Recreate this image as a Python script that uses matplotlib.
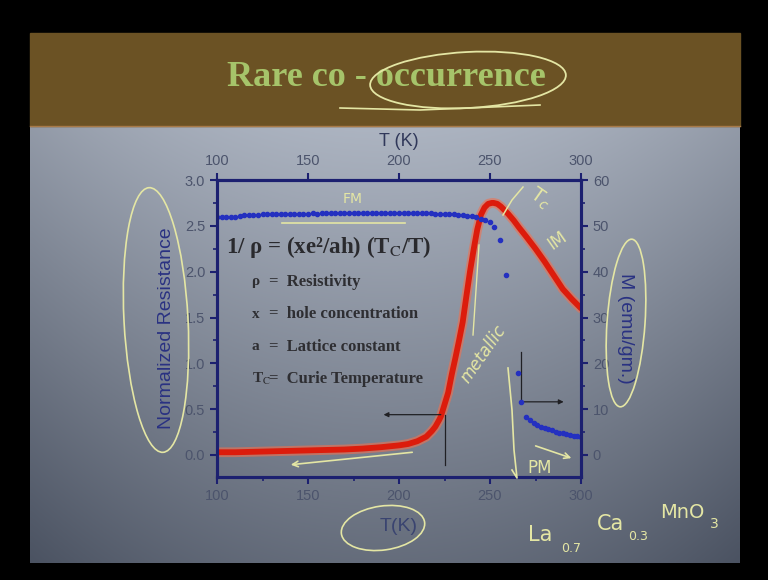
import matplotlib.pyplot as plt
import numpy as np
from matplotlib.patches import Ellipse, Rectangle

# normalized resistance vs temperature (red curve)
T_res = [100, 110, 120, 130, 140, 150, 160, 170, 180, 190, 200, 205, 210, 215,
         218, 220, 222, 223, 225, 227, 229, 231, 233, 235, 237, 239, 241, 243,
         245, 247, 249, 251, 252, 254, 256, 258, 260, 263, 266, 270, 275, 280,
         285, 290, 295, 300]
R_norm = [0.03, 0.03, 0.035, 0.04, 0.045, 0.05, 0.055, 0.06, 0.07, 0.085, 0.105,
          0.12, 0.15, 0.2, 0.26, 0.31, 0.38, 0.42, 0.55, 0.68, 0.88, 1.06, 1.25,
          1.45, 1.73, 2.0, 2.24, 2.46, 2.62, 2.7, 2.74, 2.75, 2.75, 2.74, 2.71,
          2.67, 2.63, 2.56, 2.48, 2.38, 2.25, 2.11, 1.96, 1.81, 1.7, 1.6]

# magnetization vs temperature (blue dots), emu/gm
T_mag = [100, 102.5, 105, 107.5, 110, 112.5, 115, 117.5, 120, 122.5, 125, 127.5,
         130, 132.5, 135, 137.5, 140, 142.5, 145, 147.5, 150, 152.5, 155, 157.5,
         160, 162.5, 165, 167.5, 170, 172.5, 175, 177.5, 180, 182.5, 185, 187.5,
         190, 192.5, 195, 197.5, 200, 202.5, 205, 207.5, 210, 212.5, 215, 217.5,
         220, 222.5, 225, 227.5, 230, 232.5, 235, 237.5, 240, 242.5, 245, 247.5,
         250, 252, 255.5, 258.7, 265.3, 267, 270, 272, 274, 276, 278, 280, 282,
         284, 286, 288, 290, 292, 294, 296, 298, 300]
M_emu = [51.9, 51.9, 51.9, 51.9, 52.0, 52.2, 52.3, 52.3, 52.4, 52.4, 52.5, 52.5,
         52.5, 52.6, 52.6, 52.6, 52.6, 52.6, 52.6, 52.6, 52.6, 52.7, 52.6, 52.7,
         52.7, 52.8, 52.7, 52.8, 52.9, 52.8, 52.7, 52.8, 52.8, 52.7, 52.8, 52.7,
         52.8, 52.7, 52.7, 52.8, 52.7, 52.7, 52.8, 52.7, 52.7, 52.7, 52.7, 52.7,
         52.6, 52.6, 52.6, 52.5, 52.5, 52.4, 52.3, 52.2, 52.1, 51.9, 51.6, 51.3,
         50.9, 49.7, 46.9, 39.3, 17.9, 11.6, 8.3, 7.6, 7.0, 6.6, 6.2, 5.9, 5.6,
         5.4, 5.1, 4.9, 4.7, 4.5, 4.4, 4.2, 4.1, 4.0]

T_ticks = [100, 150, 200, 250, 300]
R_ticks = [0.0, 0.5, 1.0, 1.5, 2.0, 2.5, 3.0]
M_ticks = [0, 10, 20, 30, 40, 50, 60]

legend_sym = ["ρ", "x", "a", "T$_{\\mathrm{C}}$"]
legend_txt = ["=  Resistivity", "=  hole concentration", "=  Lattice constant",
              "=  Curie Temperature"]

navy = "#1c2070"
tickcol = "#4c546c"
hand = "#e4e6a4"

fig = plt.figure(figsize=(7.68, 5.8), dpi=100)
fig.patch.set_facecolor("black")

# slide background, pixel coordinates
bg = fig.add_axes([0, 0, 1, 1])
bg.set_xlim(0, 768)
bg.set_ylim(580, 0)
bg.axis("off")
bg.set_zorder(0)
yy, xx = np.mgrid[0:1:120j, 0:1:160j]
t = np.clip(0.1 + 0.62 * yy + 0.9 * (xx - 0.5) ** 2, 0, 1)
light = np.array([0.72, 0.75, 0.80])
dark = np.array([0.27, 0.30, 0.36])
img = light[None, None, :] * (1 - t[..., None]) + dark[None, None, :] * t[..., None]
bg.imshow(img, extent=(30, 740, 563, 126), aspect="auto", interpolation="bilinear")
bg.add_patch(Rectangle((30, 33), 710, 93, color="#6b5224"))
bg.plot([30, 740], [126, 126], color="#a87a48", lw=1)
bg.text(386, 77, "Rare co - occurrence", fontfamily="Liberation Serif",
        fontweight="bold", fontsize=26, color="#a6c46a", ha="center", va="center")

# main axes
ax = fig.add_axes([217 / 768, 103 / 580, 364 / 768, 297 / 580])
ax.set_zorder(2)
ax.patch.set_visible(False)
ax.plot(T_res, R_norm, color="#f07050", lw=7, alpha=0.6, solid_capstyle="round")
ax.plot(T_res, R_norm, color="#dc1c0c", lw=4.2, solid_capstyle="round")
ax.set_xlim(100, 300)
ax.set_ylim(-0.24, 3.0)
ax.set_xticks(T_ticks)
ax.set_xticks([125, 175, 225, 275], minor=True)
ax.set_yticks(R_ticks)
ax.set_yticks([0.25, 0.75, 1.25, 1.75, 2.25, 2.75], minor=True)
ax.set_yticklabels([f"{v:.1f}" for v in R_ticks])
ax.set_ylabel("Normalized Resistance", fontsize=14, color="#2a3282",
              fontfamily="Liberation Sans", labelpad=7)
ax.set_xlabel("T(K)", fontsize=14, color="#3a4470", fontfamily="Liberation Sans",
              labelpad=11)

top = ax.secondary_xaxis("top")
top.set_xticks(T_ticks)
top.set_xlabel("T (K)", fontsize=13, color="#30385a", fontfamily="Liberation Sans",
               labelpad=6)

ax2 = ax.twinx()
ax2.set_zorder(3)
ax2.patch.set_visible(False)
ax2.plot(T_mag, M_emu, "o", color="#2430c0", ms=3.0)
ax2.set_ylim(-4.8, 60)
ax2.set_yticks(M_ticks)
ax2.set_yticks([5, 15, 25, 35, 45, 55], minor=True)
ax2.set_ylabel("M (emu/gm.)", fontsize=14, color="#2a3282",
               fontfamily="Liberation Sans", rotation=-90, labelpad=18)

for a in (ax, ax2, top):
    for s in a.spines.values():
        s.set_color(navy)
        s.set_linewidth(2.2)
    a.tick_params(which="major", length=5, width=1.5, color=navy,
                  labelcolor=tickcol, labelsize=10.5, direction="out")
    a.tick_params(which="minor", length=3, width=1.2, color=navy, direction="out")
    for lab in a.get_xticklabels() + a.get_yticklabels():
        lab.set_fontfamily("Liberation Sans")

# formula and symbol list
ax.text(105, 2.27, "1/ ρ = (xe²/ah) (T$_\\mathrm{C}$/T)", fontsize=16.5,
        fontfamily="Liberation Serif", fontweight="bold", color="#2a2a2e",
        va="center", math_fontfamily="stix")
for i in range(len(legend_sym)):
    ax.text(119, 1.89 - i * 0.355, legend_sym[i], fontsize=11,
            fontfamily="Liberation Serif", fontweight="bold", color="#2e2e32",
            va="center", math_fontfamily="stix")
    ax.text(128.5, 1.89 - i * 0.355, legend_txt[i], fontsize=12,
            fontfamily="Liberation Serif", fontweight="bold", color="#2e2e32",
            va="center")

# guide arrows
ax.annotate("", xy=(190, 0.44), xytext=(224.5, 0.44),
            arrowprops=dict(arrowstyle="-|>", color="#202024", lw=0.9,
                            mutation_scale=7))
ax.plot([225, 225], [0.44, -0.11], color="#202024", lw=0.9)
ax.plot([267, 267], [1.12, 0.58], color="#202024", lw=0.9)
ax.annotate("", xy=(292, 0.58), xytext=(267, 0.58),
            arrowprops=dict(arrowstyle="-|>", color="#202024", lw=0.9,
                            mutation_scale=7))

# hand drawn notes on top, pixel coordinates
ov = fig.add_axes([0, 0, 1, 1])
ov.set_zorder(10)
ov.set_xlim(0, 768)
ov.set_ylim(580, 0)
ov.axis("off")
ov.patch.set_visible(False)
ov.add_patch(Ellipse((468, 80), 196, 56, angle=-3, fill=False, ec=hand, lw=1.3))
ov.plot([340, 420, 540], [108, 110, 105], color=hand, lw=1.2)
ov.add_patch(Ellipse((156, 320), 64, 265, angle=-3, fill=False, ec=hand, lw=1.2))
ov.add_patch(Ellipse((626, 323), 38, 168, angle=4, fill=False, ec=hand, lw=1.2))
ov.add_patch(Ellipse((383, 528), 84, 44, angle=-8, fill=False, ec=hand, lw=1.2))
ov.text(353, 199, "FM", fontsize=10, color=hand, ha="center", va="center")
ov.plot([282, 405], [223, 223], color=hand, lw=1.2)
ov.plot([503, 512, 523], [215, 200, 187], color=hand, lw=1.1)
ov.text(540, 198, r"T$_c$", fontsize=14, color=hand, rotation=-35,
        ha="center", va="center")
ov.text(557, 240, "IM", fontsize=12, color=hand, rotation=35, ha="center", va="center")
ov.plot([479, 476, 473], [245, 290, 335], color=hand, lw=1.0)
ov.text(483, 354, "metallic", fontsize=12, color=hand, rotation=55,
        ha="center", va="center", fontstyle="italic")
ov.annotate("", xy=(288, 465), xytext=(415, 452),
            arrowprops=dict(arrowstyle="->", color=hand, lw=1.2))
ov.plot([508, 512, 514, 517, 512], [368, 410, 450, 478, 470], color=hand, lw=1.2)
ov.text(540, 468, "PM", fontsize=12, color=hand, ha="center", va="center")
ov.annotate("", xy=(574, 459), xytext=(533, 445),
            arrowprops=dict(arrowstyle="->", color=hand, lw=1.2))
ov.text(540, 535, "La", fontsize=15, color=hand, ha="center", va="center")
ov.text(571, 548, "0.7", fontsize=9, color=hand, ha="center", va="center")
ov.text(610, 524, "Ca", fontsize=15, color=hand, ha="center", va="center")
ov.text(638, 537, "0.3", fontsize=9, color=hand, ha="center", va="center")
ov.text(682, 513, "MnO", fontsize=14, color=hand, ha="center", va="center")
ov.text(714, 524, "3", fontsize=10, color=hand, ha="center", va="center")

fig.savefig("out.png", dpi=100, facecolor=fig.get_facecolor())
